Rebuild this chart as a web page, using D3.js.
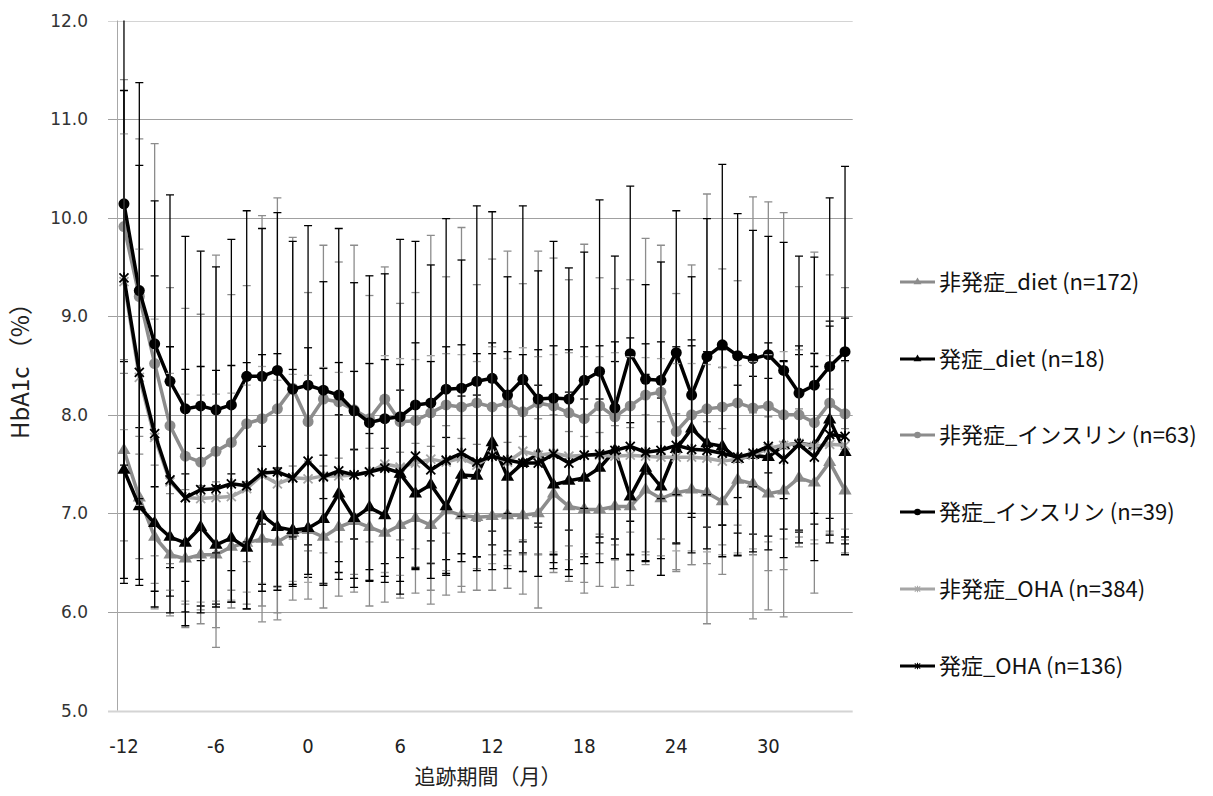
<!DOCTYPE html>
<html>
<head>
<meta charset="utf-8">
<script src="https://cdn.jsdelivr.net/npm/d3@7"></script>
<style>
  body { margin: 0; background: #fff; }
  svg { display: block; }
</style>
</head>
<body>
<svg id="chart" width="1213" height="796"></svg>
<script>
// follow-up month categories
const months = [-12, -11, -10, -9, -8, -7, -6, -5, -4, -3, -2, -1, 0, 1, 2, 3, 4, 5, 6, 7, 8, 9, 10, 11,
  12, 13, 14, 15, 16, 17, 18, 19, 20, 21, 22, 23, 24, 25, 26, 27, 28, 29, 30, 31, 32, 33, 34, 35];
const tickMonths = [-12, -6, 0, 6, 12, 18, 24, 30];
const yTicks = [5, 6, 7, 8, 9, 10, 11, 12];

// 非発症_diet (n=172)
const meanNonDiet = [7.64, 7.16, 6.76, 6.58, 6.54, 6.58, 6.58, 6.66, 6.70, 6.74, 6.71, 6.80, 6.83, 6.76, 6.86, 6.92,
  6.86, 6.80, 6.88, 6.95, 6.88, 7.03, 6.98, 6.96, 6.97, 6.98, 6.98, 7.00, 7.20, 7.07, 7.04, 7.04,
  7.07, 7.07, 7.24, 7.15, 7.21, 7.24, 7.21, 7.12, 7.34, 7.30, 7.20, 7.23, 7.36, 7.31, 7.52, 7.23];
const sdNonDiet = [0.92, 0.62, 0.73, 0.62, 0.70, 0.70, 0.74, 0.62, 0.62, 0.68, 0.72, 0.68, 0.70, 0.72, 0.70, 0.72,
  0.80, 0.70, 0.74, 0.76, 0.80, 0.86, 0.78, 0.74, 0.75, 0.74, 0.80, 0.96, 0.80, 0.76, 0.74, 0.78,
  0.82, 0.80, 0.76, 0.78, 0.80, 0.76, 0.72, 0.74, 0.76, 0.72, 0.78, 0.80, 0.70, 0.62, 0.74, 0.63];

// 発症_diet (n=18)
const meanOnDiet = [7.44, 7.07, 6.90, 6.76, 6.70, 6.86, 6.68, 6.75, 6.65, 6.98, 6.86, 6.83, 6.85, 6.94, 7.20, 6.95,
  7.06, 6.98, 7.40, 7.20, 7.29, 7.07, 7.39, 7.38, 7.72, 7.37, 7.51, 7.60, 7.29, 7.33, 7.36, 7.46,
  7.64, 7.17, 7.46, 7.27, 7.65, 7.86, 7.71, 7.68, 7.55, 7.59, 7.57, 7.69, 7.71, 7.69, 7.95, 7.62];
const sdOnDiet = [1.10, 0.80, 0.85, 0.60, 0.70, 0.80, 0.60, 0.65, 0.62, 0.70, 0.60, 0.55, 0.50, 0.65, 0.80, 0.70,
  0.75, 0.68, 0.85, 0.75, 0.80, 0.70, 0.80, 0.82, 0.90, 0.75, 0.80, 0.70, 0.85, 0.90, 0.80, 0.70,
  0.90, 0.75, 0.95, 0.90, 0.95, 0.90, 0.85, 0.80, 0.75, 0.80, 0.80, 0.85, 0.90, 0.80, 1.00, 0.93];

// 非発症_インスリン (n=63)
const meanNonIns = [9.91, 9.20, 8.52, 7.89, 7.58, 7.52, 7.63, 7.72, 7.91, 7.96, 8.06, 8.27, 7.93, 8.16, 8.13, 8.05,
  7.96, 8.16, 7.93, 7.94, 8.02, 8.10, 8.08, 8.12, 8.08, 8.12, 8.03, 8.12, 8.09, 8.02, 7.96, 8.09,
  7.98, 8.09, 8.20, 8.23, 7.83, 8.00, 8.06, 8.08, 8.12, 8.07, 8.09, 8.00, 8.00, 7.92, 8.12, 8.01];
const sdNonIns = [1.49, 1.60, 2.23, 1.40, 1.50, 1.50, 1.99, 1.50, 1.40, 2.06, 2.14, 1.53, 1.31, 1.56, 1.42, 1.67,
  1.25, 1.34, 1.20, 1.30, 1.80, 1.30, 1.82, 1.20, 1.50, 1.54, 1.30, 1.54, 1.50, 1.35, 1.77, 1.30,
  1.30, 1.28, 1.59, 1.49, 1.40, 1.52, 2.18, 1.40, 1.24, 2.14, 2.07, 2.05, 1.30, 1.73, 1.30, 1.28];

// 発症_インスリン (n=39)
const meanOnIns = [10.14, 9.26, 8.72, 8.34, 8.06, 8.09, 8.05, 8.10, 8.39, 8.39, 8.45, 8.26, 8.30, 8.25, 8.20, 8.04,
  7.92, 7.96, 7.98, 8.10, 8.12, 8.26, 8.27, 8.34, 8.37, 8.20, 8.36, 8.16, 8.17, 8.16, 8.35, 8.44,
  8.07, 8.62, 8.36, 8.35, 8.63, 8.20, 8.59, 8.71, 8.60, 8.57, 8.61, 8.45, 8.22, 8.30, 8.49, 8.64];
const sdOnIns = [3.85, 2.11, 1.45, 1.89, 1.75, 1.57, 1.45, 1.68, 1.68, 1.50, 1.60, 1.50, 1.62, 1.10, 1.69, 1.30,
  1.49, 1.47, 1.80, 1.66, 1.40, 1.73, 1.30, 1.78, 1.69, 1.20, 1.76, 1.30, 1.59, 1.33, 1.30, 1.74,
  1.54, 1.70, 0.96, 1.20, 1.44, 1.20, 1.40, 1.83, 1.44, 1.30, 1.20, 1.30, 1.39, 1.30, 1.71, 1.88];

// 非発症_OHA (n=384)
const meanNonOha = [9.35, 8.38, 7.77, 7.32, 7.16, 7.15, 7.16, 7.17, 7.25, 7.39, 7.30, 7.36, 7.35, 7.38, 7.38, 7.39,
  7.42, 7.50, 7.47, 7.51, 7.55, 7.52, 7.56, 7.49, 7.59, 7.52, 7.63, 7.59, 7.61, 7.58, 7.59, 7.59,
  7.58, 7.59, 7.58, 7.57, 7.57, 7.57, 7.56, 7.53, 7.55, 7.59, 7.66, 7.69, 7.71, 7.68, 7.70, 7.69];
const sdNonOha = [1.50, 1.30, 1.20, 1.10, 1.05, 1.05, 1.05, 1.05, 1.05, 1.10, 1.05, 1.05, 1.05, 1.10, 1.05, 1.05,
  1.10, 1.10, 1.10, 1.05, 1.05, 1.10, 1.05, 1.05, 1.10, 1.05, 1.05, 1.00, 1.00, 1.05, 1.00, 1.00,
  1.05, 1.00, 1.00, 1.00, 0.95, 0.95, 0.95, 0.95, 0.95, 0.95, 0.95, 0.95, 0.95, 0.95, 0.90, 0.85];

// 発症_OHA (n=136)
const meanOnOha = [9.39, 8.43, 7.81, 7.34, 7.16, 7.24, 7.25, 7.30, 7.28, 7.41, 7.42, 7.36, 7.53, 7.37, 7.43, 7.39,
  7.42, 7.46, 7.41, 7.58, 7.44, 7.54, 7.61, 7.52, 7.58, 7.54, 7.51, 7.51, 7.60, 7.51, 7.59, 7.60,
  7.64, 7.68, 7.62, 7.64, 7.69, 7.65, 7.64, 7.61, 7.57, 7.61, 7.68, 7.55, 7.70, 7.57, 7.80, 7.78];
const sdOnOha = [1.90, 2.10, 1.60, 1.35, 1.30, 1.25, 1.20, 1.20, 1.25, 1.20, 1.20, 1.10, 1.15, 1.10, 1.10, 1.05,
  1.10, 1.10, 1.10, 1.15, 1.10, 1.15, 1.10, 1.10, 1.15, 1.10, 1.10, 1.15, 1.10, 1.15, 1.10, 1.10,
  1.10, 1.10, 1.10, 1.10, 1.00, 1.05, 1.00, 1.05, 1.00, 1.00, 1.05, 1.00, 1.00, 1.05, 1.10, 1.20];

const GRAY = '#8c8c8c';
const LIGHT = '#a6a6a6';
const BLACK = '#000000';

const series = [
  { name: '非発症_diet (n=172)', mean: meanNonDiet, sd: sdNonDiet, color: GRAY, marker: 'triangle' },
  { name: '発症_diet (n=18)', mean: meanOnDiet, sd: sdOnDiet, color: BLACK, marker: 'triangle' },
  { name: '非発症_インスリン (n=63)', mean: meanNonIns, sd: sdNonIns, color: GRAY, marker: 'circle' },
  { name: '発症_インスリン (n=39)', mean: meanOnIns, sd: sdOnIns, color: BLACK, marker: 'circle' },
  { name: '非発症_OHA (n=384)', mean: meanNonOha, sd: sdNonOha, color: LIGHT, marker: 'star' },
  { name: '発症_OHA (n=136)', mean: meanOnOha, sd: sdOnOha, color: BLACK, marker: 'star' }
];

const svg = d3.select('#chart');
const plot = { left: 116.3, right: 852.7, top: 20.5, bottom: 710.5 };

const x = d3.scaleBand().domain(months).range([plot.left, plot.right]).padding(0);
const cx = (m) => x(m) + x.bandwidth() / 2;
const y = d3.scaleLinear().domain([5, 12]).range([plot.bottom, plot.top]);

svg.append('defs').append('clipPath').attr('id', 'plotClip')
  .append('rect')
  .attr('x', plot.left - 10).attr('y', plot.top)
  .attr('width', plot.right - plot.left + 20).attr('height', plot.bottom - plot.top);

// horizontal gridlines
svg.append('g').selectAll('line').data(yTicks).enter().append('line')
  .attr('x1', 108).attr('x2', plot.right)
  .attr('y1', (d) => Math.round(y(d)) + 0.5).attr('y2', (d) => Math.round(y(d)) + 0.5)
  .attr('stroke', (d) => (d === 5 || d === 12 ? '#d4d4d4' : '#a0a0a0'))
  .attr('stroke-width', (d) => (d === 5 ? 2 : 1.2));

// y axis line
svg.append('line')
  .attr('x1', 117.5).attr('x2', 117.5)
  .attr('y1', plot.top).attr('y2', plot.bottom)
  .attr('stroke', '#a8a8a8').attr('stroke-width', 1);

// y tick labels
svg.append('g').selectAll('text').data(yTicks).enter().append('text')
  .attr('x', 88).attr('y', (d) => y(d) + 6)
  .attr('text-anchor', 'end')
  .attr('font-family', 'DejaVu Sans, sans-serif').attr('font-size', 17)
  .attr('fill', '#333')
  .text((d) => d.toFixed(1));

// x tick labels
svg.append('g').selectAll('text').data(tickMonths).enter().append('text')
  .attr('x', (d) => cx(d)).attr('y', 753)
  .attr('text-anchor', 'middle')
  .attr('font-family', 'DejaVu Sans Condensed, Liberation Sans Narrow, sans-serif').attr('font-size', 20)
  .attr('fill', '#222')
  .text((d) => d);

// axis titles
svg.append('text')
  .attr('transform', 'translate(29,365) rotate(-90)')
  .attr('text-anchor', 'middle')
  .attr('font-family', 'Liberation Sans Narrow, Noto Sans CJK JP, sans-serif').attr('font-size', 24)
  .attr('fill', '#222')
  .text('HbA1c （%）');

svg.append('text')
  .attr('x', 488).attr('y', 784)
  .attr('text-anchor', 'middle')
  .attr('font-family', 'Noto Sans CJK JP, sans-serif').attr('font-size', 21)
  .attr('fill', '#222')
  .text('追跡期間（月）');

const starPath = 'M-4.5,-4.5L4.5,4.5M-4.5,4.5L4.5,-4.5M0,-5.5L0,5.5';

function drawMarker(g, type, color, size) {
  const k = size || 1;
  if (type === 'circle') {
    g.append('circle').attr('r', 5.5 * k).attr('fill', color);
  } else if (type === 'triangle') {
    g.append('path').attr('d', d3.symbol(d3.symbolTriangle, 75 * k * k)()).attr('fill', color);
  } else {
    g.append('path').attr('d', starPath).attr('transform', `scale(${k})`)
      .attr('stroke', color).attr('stroke-width', 1.8).attr('fill', 'none');
  }
}

const marks = svg.append('g').attr('clip-path', 'url(#plotClip)');
const line = d3.line().x((d) => cx(d.m)).y((d) => y(d.v));

series.forEach((s) => {
  const pts = months.map((m, i) => ({ m, v: s.mean[i], sd: s.sd[i] }));
  const g = marks.append('g');

  // error bars (± SD)
  const bars = g.append('g').attr('stroke', s.color).attr('stroke-width', 1.3);
  pts.forEach((p) => {
    const top = y(p.v + p.sd), bot = y(p.v - p.sd), px = cx(p.m);
    bars.append('line').attr('x1', px).attr('x2', px).attr('y1', top).attr('y2', bot);
    bars.append('line').attr('x1', px - 4).attr('x2', px + 4).attr('y1', top).attr('y2', top);
    bars.append('line').attr('x1', px - 4).attr('x2', px + 4).attr('y1', bot).attr('y2', bot);
  });

  g.append('path').datum(pts)
    .attr('d', line)
    .attr('fill', 'none').attr('stroke', s.color)
    .attr('stroke-width', 3.5).attr('stroke-linejoin', 'round');

  g.selectAll('g.mk').data(pts).enter().append('g')
    .attr('class', 'mk')
    .attr('transform', (d) => `translate(${cx(d.m)},${y(d.v)})`)
    .each(function () { drawMarker(d3.select(this), s.marker, s.color); });
});

// legend
const legendY = [282, 359, 435, 512, 589, 666];
const legend = svg.append('g');
series.forEach((s, i) => {
  const g = legend.append('g').attr('transform', `translate(900,${legendY[i]})`);
  g.append('line').attr('x1', 0).attr('x2', 35).attr('stroke', s.color).attr('stroke-width', 3);
  const m = g.append('g').attr('transform', 'translate(17.5,0)');
  drawMarker(m, s.marker, s.color, 0.6);
  g.append('text')
    .attr('x', 39).attr('y', 8)
    .attr('font-family', 'Noto Sans CJK JP, sans-serif').attr('font-size', 22)
    .attr('fill', '#111')
    .text(s.name);
});
</script>
</body>
</html>
